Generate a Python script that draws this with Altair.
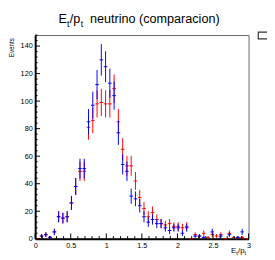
import altair as alt
import pandas as pd

# ---- data ----
bin_centers = [round(0.03 + 0.06 * i, 2) for i in range(50)]
blue_counts = [0, 2, 3, 1, 5, 16, 15, 16, 26, 38,
               51, 51, 85, 97, 112, 130, 125, 113, 104, 77,
               54, 49, 31, 29, 24, 16, 12, 14, 11, 11,
               8, 6, 8, 8, 4, 8, 0, 2, 2, 1,
               0, 5, 0, 2, 0, 3, 0, 1, 5, 0]
red_counts = [0, 2, 3, 1, 5, 16, 15, 16, 26, 38,
              49, 49, 81, 86, 98, 99, 98, 98, 109, 85,
              65, 53, 53, 42, 30, 22, 16, 19, 14, 11,
              10, 11, 9, 9, 8, 9, 0, 3, 2, 4,
              1, 3, 2, 3, 0, 4, 1, 1, 1, 0]
x_major = [0, 0.5, 1, 1.5, 2, 2.5, 3]
x_minor = [0.1, 0.2, 0.3, 0.4, 0.6, 0.7, 0.8, 0.9, 1.1, 1.2, 1.3, 1.4,
           1.6, 1.7, 1.8, 1.9, 2.1, 2.2, 2.3, 2.4, 2.6, 2.7, 2.8, 2.9]
y_major = [0, 20, 40, 60, 80, 100, 120, 140]
y_minor = [4, 8, 12, 16, 24, 28, 32, 36, 44, 48, 52, 56, 64, 68, 72, 76,
           84, 88, 92, 96, 104, 108, 112, 116, 124, 128, 132, 136, 144, 148]

W, H = 220, 210
FONT = "Liberation Sans"

xscale = alt.Scale(domain=[0, 3], nice=False, zero=False)
yscale = alt.Scale(domain=[0, 148], nice=False, zero=False)
xaxis = alt.Axis(values=x_major, labelExpr="toString(datum.value)", labelOverlap=False)
yaxis = alt.Axis(values=y_major, labelOverlap=False)


def X(field):
    return alt.X(field, type="quantitative", scale=xscale, title=None, axis=xaxis)


def Y(field):
    return alt.Y(field, type="quantitative", scale=yscale, title=None, axis=yaxis)


blue_df = pd.DataFrame({"x": bin_centers, "n": blue_counts})
red_df = pd.DataFrame({"x": bin_centers, "n": red_counts})


def errbars(df, color, show_zero):
    base = alt.Chart(df).transform_calculate(
        lo="datum.n - sqrt(datum.n)",
        hi="datum.n + sqrt(datum.n)",
        x0="datum.x - 0.025",
        x1="datum.x + 0.025",
    )
    v = base.transform_filter("datum.n > 0").mark_rule(color=color, strokeWidth=1).encode(
        x=X("x"), y=Y("lo"), y2="hi:Q",
    )
    hb = base if show_zero else base.transform_filter("datum.n > 0")
    h = hb.mark_rule(color=color, strokeWidth=1).encode(
        x=X("x0"), x2="x1:Q", y=Y("n"),
    )
    return v + h


ytick_major = alt.Chart(pd.DataFrame({"v": y_major})).mark_rule(color="black", strokeWidth=1).encode(
    y=Y("v"), x=alt.value(0), x2=alt.value(5))
ytick_minor = alt.Chart(pd.DataFrame({"v": y_minor})).mark_rule(color="black", strokeWidth=1).encode(
    y=Y("v"), x=alt.value(0), x2=alt.value(2.5))
xtick_major = alt.Chart(pd.DataFrame({"v": x_major})).mark_rule(color="black", strokeWidth=1).encode(
    x=X("v"), y=alt.value(H), y2=alt.value(H - 5.5))
xtick_minor = alt.Chart(pd.DataFrame({"v": x_minor})).mark_rule(color="black", strokeWidth=1).encode(
    x=X("v"), y=alt.value(H), y2=alt.value(H - 2.7))

dummy = pd.DataFrame({"a": [0]})


def txt(s, x, y, size, angle=0, align="left"):
    return alt.Chart(dummy).mark_text(
        font=FONT, fontSize=size, align=align, baseline="alphabetic" if angle == 0 else "middle",
        angle=angle, color="black"
    ).encode(x=alt.value(x), y=alt.value(y), text=alt.value(s))


title = (txt("E", 24, -12, 13) + txt("t", 32.7, -8, 9) + txt("/p", 35.6, -12, 13)
         + txt("t", 47, -8, 9) + txt("neutrino (comparacion)", 56.5, -12, 13))
xtitle = (txt("E", 202, 224.5, 8) + txt("t", 207.3, 226.5, 6) + txt("/p", 209.2, 224.5, 8)
          + txt("t", 215.8, 226.5, 6))
ytitle = txt("Events", -24, 3, 6.5, angle=270, align="right")

# small (cut-off) stats box at the top right corner
statbox = alt.Chart(dummy).mark_rect(fill="white", stroke="#333333", strokeWidth=1.2).encode(
    x=alt.value(230), x2=alt.value(245), y=alt.value(-3), y2=alt.value(4))

chart = alt.layer(
    errbars(red_df, "#ff0000", True),
    errbars(blue_df, "#0000ff", False),
    ytick_major, ytick_minor, xtick_major, xtick_minor,
    title, xtitle, ytitle, statbox,
).properties(
    width=W, height=H,
    autosize=alt.AutoSizeParams(type="none"),
    padding={"left": 28, "top": 24, "right": 19, "bottom": 18},
).configure_view(
    stroke="#666666", strokeWidth=1
).configure_axis(
    labelFont=FONT, labelFontSize=7.5, labelColor="black", grid=False, ticks=False,
    tickSize=0, labelFlush=False, domainColor="black", domainWidth=2, labelPadding=3,
    labelOverlap=False
)

chart.save("out.html", embed_options={"renderer": "svg", "actions": False})
